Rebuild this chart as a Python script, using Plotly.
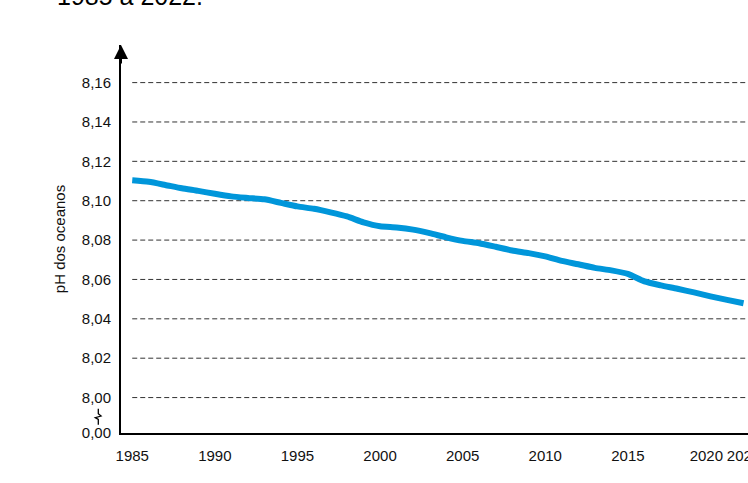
import plotly.graph_objects as go

# ---- data ----
years = list(range(1985, 2023))
ph_values = [8.1104, 8.1096, 8.1080, 8.1063, 8.1050, 8.1035, 8.1022, 8.1014,
             8.1007, 8.0989, 8.0971, 8.0959, 8.0941, 8.0920, 8.0890, 8.0870,
             8.0864, 8.0853, 8.0835, 8.0814, 8.0796, 8.0784, 8.0766, 8.0747,
             8.0734, 8.0717, 8.0694, 8.0677, 8.0659, 8.0646, 8.0628, 8.0590,
             8.0570, 8.0553, 8.0534, 8.0514, 8.0496, 8.0479]

x_tick_vals = [1985, 1990, 1995, 2000, 2005, 2010, 2015, 2020, 2022]
x_tick_text = ["1985", "1990", "1995", "2000", "2005", "2010", "2015",
               "2020\u00a0\u00a0", "2022"]

grid_vals = [8.00, 8.02, 8.04, 8.06, 8.08, 8.10, 8.12, 8.14, 8.16]
y_tick_vals = [7.982] + grid_vals
y_tick_text = ["0,00", "8,00", "8,02", "8,04", "8,06", "8,08", "8,10", "8,12", "8,14", "8,16"]

y_title = "pH dos oceanos"
title_tail = "1985 a 2022."

FONT = "Liberation Sans, Arial, sans-serif"
x_range = [1984.32, 2022.27]
y_range = [7.982, 8.1791]

fig = go.Figure()
fig.add_trace(go.Scatter(
    x=years, y=ph_values, mode="lines",
    line=dict(color="#0096DA", width=6, shape="spline", smoothing=0.6),
    hoverinfo="skip", showlegend=False,
))

# dashed grid lines starting at the first year
shapes = []
for g in grid_vals:
    shapes.append(dict(type="line", xref="x", yref="y",
                       x0=years[0], x1=x_range[1], y0=g, y1=g,
                       line=dict(color="#333333", width=1, dash="5px,3px"),
                       layer="below"))

# axis break symbol between 8,00 and 0,00
shapes.append(dict(
    type="path", xref="paper", yref="y",
    path=("M -0.0362 7.9943 L -0.0362 7.9918 L -0.0318 7.9906 "
          "L -0.0410 7.9898 L -0.0362 7.9889 L -0.0362 7.9862"),
    line=dict(color="#000000", width=1.3),
))

fig.update_layout(
    width=748, height=483,
    margin=dict(l=121, r=0, t=45, b=50, autoexpand=False),
    paper_bgcolor="white", plot_bgcolor="white",
    font=dict(family=FONT, size=15, color="#111111"),
    shapes=shapes,
    xaxis=dict(
        range=x_range, tickmode="array", tickvals=x_tick_vals, ticktext=x_tick_text,
        showgrid=False, zeroline=False, showline=True, linecolor="#000000", linewidth=2,
        ticks="", ticklabelstandoff=8, ticklabeloverflow="allow", tickangle=0,
        tickfont=dict(family=FONT, size=15),
        fixedrange=True,
    ),
    yaxis=dict(
        range=y_range, tickmode="array", tickvals=y_tick_vals, ticktext=y_tick_text,
        showgrid=False, zeroline=False, showline=True, linecolor="#000000", linewidth=2,
        ticks="", ticklabelstandoff=5, ticklabeloverflow="allow",
        tickfont=dict(family=FONT, size=15),
        title=dict(text=y_title, font=dict(family=FONT, size=15), standoff=13),
        fixedrange=True,
    ),
    annotations=[
        dict(xref="paper", yref="paper", x=0, y=1, ax=0, ay=20, axref="pixel", ayref="pixel",
             showarrow=True, arrowhead=2, arrowsize=1.4, arrowwidth=2, arrowcolor="#000000",
             text=""),
        dict(xref="paper", yref="paper", x=-0.105, y=1, xanchor="left", yanchor="bottom",
             yshift=33, showarrow=False, text=title_tail,
             font=dict(family=FONT, size=25, color="#000000")),
    ],
)

fig.write_html("out.html", config={"displayModeBar": False},
               post_script="document.body.style.margin='0';document.body.style.overflow='hidden';")
